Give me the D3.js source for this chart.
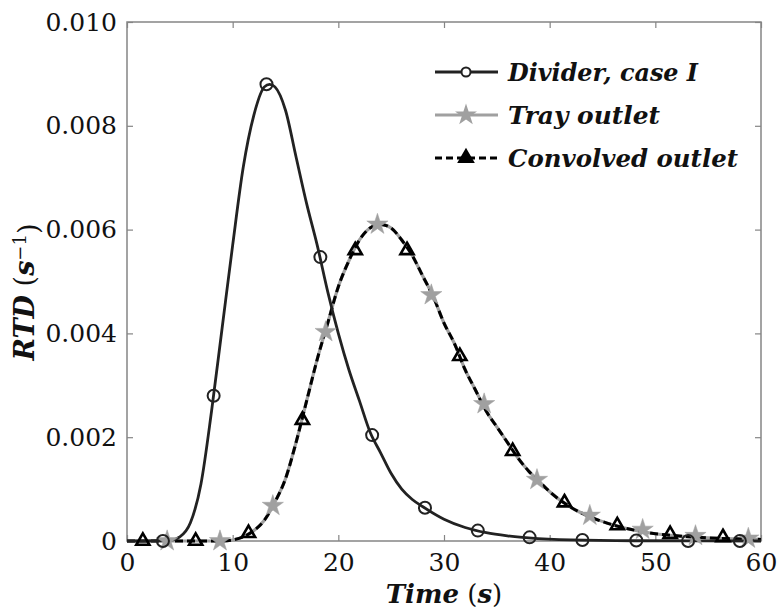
<!DOCTYPE html>
<html><head><meta charset="utf-8">
<script src="https://cdn.jsdelivr.net/npm/d3@7"></script>
<style>html,body{margin:0;padding:0;background:#fff;}</style>
</head><body>
<svg id="chart" width="780" height="609"></svg>
<script>
// ---- data ----
const xTicks = [0, 10, 20, 30, 40, 50, 60];
const yTicks = [0, 0.002, 0.004, 0.006, 0.008, 0.010];
const yTickLabels = ["0", "0.002", "0.004", "0.006", "0.008", "0.010"];

const dividerT = [0, 4, 5, 6, 7, 8, 9, 10, 11, 12, 13, 13.5, 14, 15, 16, 17, 18, 19, 20, 21, 22, 23, 24, 25, 26, 27, 28, 30, 32, 34, 36, 38, 42, 48, 60];
const dividerV = [0, 0.00001, 0.00008, 0.00035, 0.0011, 0.0025, 0.0041, 0.0057, 0.0072, 0.0082, 0.00875, 0.0088, 0.00875, 0.0083, 0.0074, 0.0065, 0.0057, 0.0048, 0.0040, 0.0033, 0.0027, 0.0021, 0.0017, 0.0013, 0.0010, 0.0008, 0.00066, 0.00042, 0.00026, 0.00016, 0.0001, 0.00006, 0.00002, 0.000005, 0];

const trayT = [0, 9, 10, 11, 12, 13, 14, 15, 16, 17, 18, 19, 20, 21, 22, 23, 24, 25, 26, 27, 28, 29, 30, 31, 32, 33, 34, 35, 36, 37, 38, 39, 40, 42, 44, 46, 48, 50, 52, 55, 58, 60];
const trayV = [0, 0, 0.00002, 0.00008, 0.0002, 0.0004, 0.00075, 0.0012, 0.0019, 0.0027, 0.0035, 0.0042, 0.0049, 0.0054, 0.0058, 0.00603, 0.0061, 0.00603, 0.0058, 0.0055, 0.0051, 0.0047, 0.0042, 0.0038, 0.0033, 0.0029, 0.0025, 0.0022, 0.0019, 0.0016, 0.00135, 0.00115, 0.00095, 0.00065, 0.00045, 0.00031, 0.00021, 0.00014, 0.0001, 0.00006, 0.00004, 0.00003];

const convT = [0, 9, 10, 11, 12, 13, 14, 15, 16, 17, 18, 19, 20, 21, 22, 23, 24, 25, 26, 27, 28, 29, 30, 31, 32, 33, 34, 35, 36, 37, 38, 39, 40, 42, 44, 46, 48, 50, 52, 55, 58, 60];
const convV = [0, 0, 0.00002, 0.00008, 0.0002, 0.0004, 0.00075, 0.0012, 0.0019, 0.0027, 0.0035, 0.0042, 0.0049, 0.0054, 0.0058, 0.00603, 0.0061, 0.00603, 0.0058, 0.0055, 0.0051, 0.0047, 0.0042, 0.0038, 0.0033, 0.0029, 0.0025, 0.0022, 0.0019, 0.0016, 0.00135, 0.00115, 0.00095, 0.00065, 0.00045, 0.00031, 0.00021, 0.00014, 0.0001, 0.00006, 0.00004, 0.00003];

const dividerMarkT = [3.4, 8.2, 13.2, 18.3, 23.2, 28.2, 33.2, 38.1, 43.1, 48.2, 53.1, 58.0];
const dividerMarkV = [0, 0.0028, 0.0088, 0.00547, 0.00204, 0.00064, 0.0002, 0.00007, 0.00002, 0.00001, 0, 0];
const trayMarkT = [3.8, 8.8, 13.8, 18.8, 23.7, 28.8, 33.8, 38.8, 43.8, 48.8, 53.8, 58.8];
const trayMarkV = [0, 0, 0.00068, 0.00403, 0.0061, 0.00474, 0.00264, 0.00118, 0.00049, 0.00022, 0.0001, 0.00005];
const convMarkT = [1.5, 6.5, 11.5, 16.6, 21.6, 26.5, 31.5, 36.5, 41.4, 46.4, 51.4, 56.4];
const convMarkV = [0, 0, 0.00015, 0.00233, 0.0056, 0.0056, 0.00356, 0.00173, 0.00074, 0.0003, 0.00013, 0.00007];

const legendLabels = ["Divider, case I", "Tray outlet", "Convolved outlet"];

// ---- drawing ----
const svg = d3.select("#chart");
const L = 127, R = 761, T = 22, B = 541;
const x = d3.scaleLinear().domain([0, 60]).range([L, R]);
const y = d3.scaleLinear().domain([0, 0.01]).range([B, T]);
const axisColor = "#858585";
const tickFont = "'DejaVu Serif', serif";

svg.append("rect").attr("x", L).attr("y", T).attr("width", R - L).attr("height", B - T)
  .attr("fill", "none").attr("stroke", axisColor).attr("stroke-width", 1.5);

function styleAxis(g) {
  g.select(".domain").remove();
  g.selectAll(".tick line").attr("stroke", axisColor).attr("stroke-width", 1.2);
  g.selectAll(".tick text").attr("fill", "#111").style("font-family", tickFont).style("font-size", "25px");
}

svg.append("g").attr("transform", `translate(0,${B})`)
  .call(d3.axisBottom(x).tickValues(xTicks).tickFormat(d3.format("d")).tickSizeInner(-6).tickSizeOuter(0).tickPadding(12))
  .call(styleAxis);
svg.append("g").attr("transform", `translate(0,${T})`)
  .call(d3.axisTop(x).tickValues(xTicks).tickFormat("").tickSizeInner(-6).tickSizeOuter(0))
  .call(styleAxis);
svg.append("g").attr("transform", `translate(${L},0)`)
  .call(d3.axisLeft(y).tickValues(yTicks).tickFormat((d, i) => yTickLabels[i]).tickSizeInner(-6).tickSizeOuter(0).tickPadding(10))
  .call(styleAxis);
svg.append("g").attr("transform", `translate(${R},0)`)
  .call(d3.axisRight(y).tickValues(yTicks).tickFormat("").tickSizeInner(-6).tickSizeOuter(0))
  .call(styleAxis);

const line = d3.line().x(d => x(d[0])).y(d => y(d[1])).curve(d3.curveMonotoneX);
const zip = (a, b) => a.map((v, i) => [v, b[i]]);

// tray outlet (gray solid)
svg.append("path").datum(zip(trayT, trayV)).attr("d", line)
  .attr("fill", "none").attr("stroke", "#a0a0a0").attr("stroke-width", 3.2);
// convolved (black dashed)
svg.append("path").datum(zip(convT, convV)).attr("d", line)
  .attr("fill", "none").attr("stroke", "#000").attr("stroke-width", 3).attr("stroke-dasharray", "8,4");
// divider (dark solid)
svg.append("path").datum(zip(dividerT, dividerV)).attr("d", line)
  .attr("fill", "none").attr("stroke", "#222").attr("stroke-width", 2.8);

// markers
svg.append("g").selectAll("path").data(zip(trayMarkT, trayMarkV)).join("path")
  .attr("transform", d => `translate(${x(d[0])},${y(d[1])})`)
  .attr("d", d3.symbol(d3.symbolStar, 140)())
  .attr("fill", "#a0a0a0").attr("stroke", "#a0a0a0").attr("stroke-width", 0.5);
svg.append("g").selectAll("path").data(zip(convMarkT, convMarkV)).join("path")
  .attr("transform", d => `translate(${x(d[0])},${y(d[1])})`)
  .attr("d", d3.symbol(d3.symbolTriangle, 75)())
  .attr("fill", "none").attr("stroke", "#000").attr("stroke-width", 2.6);
svg.append("g").selectAll("circle").data(zip(dividerMarkT, dividerMarkV)).join("circle")
  .attr("cx", d => x(d[0])).attr("cy", d => y(d[1])).attr("r", 6)
  .attr("fill", "none").attr("stroke", "#222").attr("stroke-width", 2);

// legend
const legFont = "'DejaVu Serif', serif";
const legRows = [72, 115, 158];
const lg = svg.append("g");
const lx0 = 435, lx1 = 498, lmx = 466, ltx = 508;
const legWidths = [190, 152, 230];
lg.append("line").attr("x1", lx0).attr("x2", lx1).attr("y1", legRows[0]).attr("y2", legRows[0]).attr("stroke", "#222").attr("stroke-width", 2.8);
lg.append("circle").attr("cx", lmx).attr("cy", legRows[0]).attr("r", 4.5).attr("fill", "#fff").attr("stroke", "#222").attr("stroke-width", 2);
lg.append("line").attr("x1", lx0).attr("x2", lx1).attr("y1", legRows[1]).attr("y2", legRows[1]).attr("stroke", "#a0a0a0").attr("stroke-width", 3.2);
lg.append("path").attr("transform", `translate(${lmx},${legRows[1]})`).attr("d", d3.symbol(d3.symbolStar, 150)()).attr("fill", "#a0a0a0");
lg.append("line").attr("x1", lx0).attr("x2", lx1).attr("y1", legRows[2]).attr("y2", legRows[2]).attr("stroke", "#000").attr("stroke-width", 3).attr("stroke-dasharray", "7,4");
lg.append("path").attr("transform", `translate(${lmx},${legRows[2]})`).attr("d", d3.symbol(d3.symbolTriangle, 75)()).attr("fill", "#000").attr("stroke", "#000").attr("stroke-width", 2.6);
legendLabels.forEach((t, i) => {
  lg.append("text").attr("x", ltx).attr("y", legRows[i]).attr("dy", "0.35em")
    .attr("textLength", legWidths[i]).attr("lengthAdjust", "spacingAndGlyphs")
    .style("font-family", legFont).style("font-size", "25px").style("font-weight", "bold").style("font-style", "italic")
    .attr("fill", "#111").text(t);
});

// axis titles
const xt = svg.append("text").attr("x", 444).attr("y", 603).attr("text-anchor", "middle")
  .style("font-family", legFont).style("font-size", "26px").attr("fill", "#111");
xt.append("tspan").style("font-weight", "bold").style("font-style", "italic").text("Time");
xt.append("tspan").text(" (");
xt.append("tspan").style("font-weight", "bold").style("font-style", "italic").text("s");
xt.append("tspan").text(")");

const yt = svg.append("text").attr("transform", "translate(34,292) rotate(-90)").attr("text-anchor", "middle")
  .style("font-family", legFont).style("font-size", "27px").attr("fill", "#111");
yt.append("tspan").style("font-weight", "bold").style("font-style", "italic").text("RTD");
yt.append("tspan").text(" (");
yt.append("tspan").style("font-weight", "bold").style("font-style", "italic").text("s");
yt.append("tspan").attr("dy", "-0.45em").style("font-size", "18px").text("−1");
yt.append("tspan").attr("dy", "0.45em").text(")");
</script>
</body></html>
